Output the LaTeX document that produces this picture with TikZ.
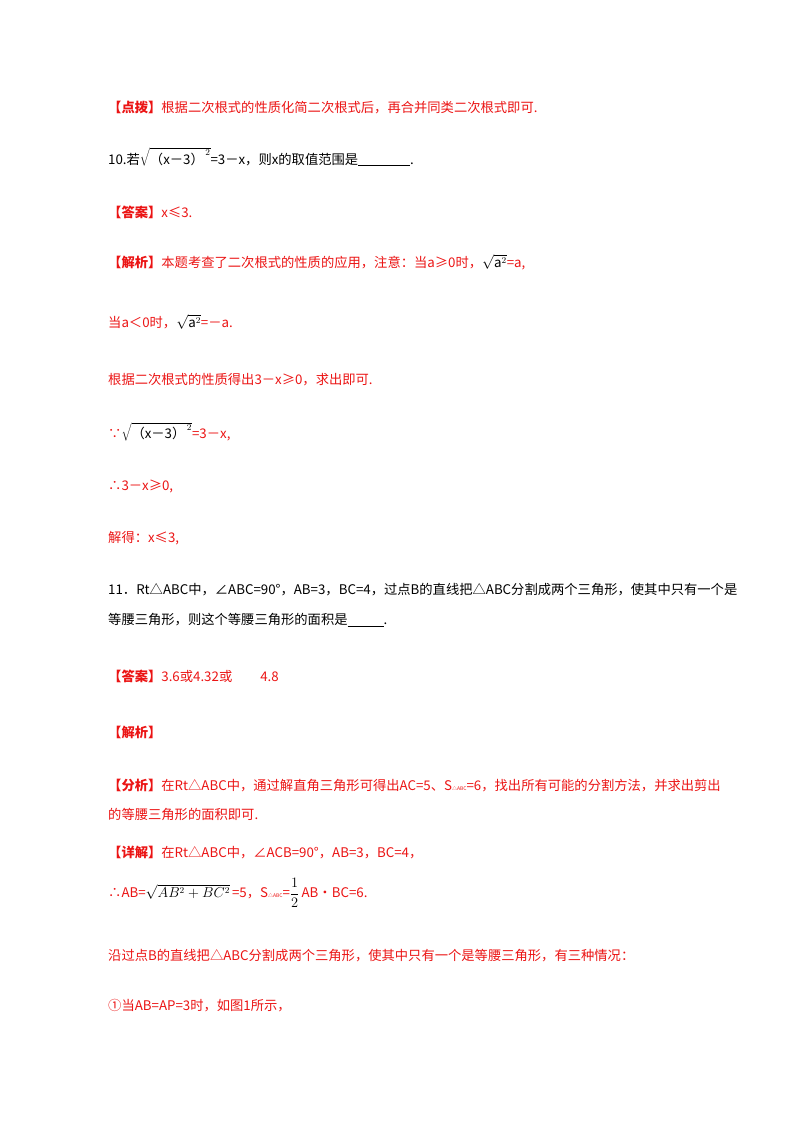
\documentclass[tikz,border=0pt]{standalone}
\usepackage{fontspec}
\setmainfont{Noto Sans CJK SC}
\definecolor{ansred}{RGB}{235,20,20}
\tikzset{
  line/.style={anchor=west, inner sep=0pt, font=\fontsize{13.3}{16}\selectfont},
  redline/.style={line, text=ansred},
}
\newcommand{\tag}[1]{\textbf{【#1】}}
\newcommand{\cjkbox}[1]{\mbox{\rmfamily #1}}
\begin{document}
\begin{tikzpicture}[x=1pt,y=-1pt]
\useasboundingbox (0,0) rectangle (800,1132);
\node[redline] (dianbo) at (108,108) {\tag{点拨}根据二次根式的性质化简二次根式后，再合并同类二次根式即可.};
\node[line] (q10) at (108,157) {10.若{\color{black}$\sqrt{\cjkbox{（x－3）}^{\,2}}$}=3－x，则x的取值范围是\underline{\hspace{52pt}}.};
\node[redline] (ans10) at (108,212) {\tag{答案}x≤3.};
\node[redline] (jx10) at (108,262) {\tag{解析}本题考查了二次根式的性质的应用，注意：当a≥0时，{\color{black}$\sqrt{\cjkbox{a}^2}$}=a,};
\node[redline] (jx10b) at (108,322) {当a＜0时，{\color{black}$\sqrt{\cjkbox{a}^2}$}=－a.};
\node[redline] (jx10c) at (108,380) {根据二次根式的性质得出3－x≥0，求出即可.};
\node[redline] (jx10d) at (108,432) {∵{\color{black}$\sqrt{\cjkbox{（x－3）}^{\,2}}$}=3－x,};
\node[redline] (jx10e) at (108,486) {∴3－x≥0,};
\node[redline] (jx10f) at (108,538) {解得：x≤3,};
\node[line] (q11) at (108,590) {11．Rt△ABC中，∠ABC=90°，AB=3，BC=4，过点B的直线把△ABC分割成两个三角形，使其中只有一个是};
\node[line] (q11b) at (108,620) {等腰三角形，则这个等腰三角形的面积是\underline{\hspace{36pt}}.};
\node[redline] (ans11) at (108,676) {\tag{答案}3.6或4.32或\hspace{28pt}4.8};
\node[redline] (jx11) at (108,732) {\tag{解析}};
\node[redline] (fx11) at (108,786) {\tag{分析}在Rt△ABC中，通过解直角三角形可得出AC=5、S{\tiny△ABC}=6，找出所有可能的分割方法，并求出剪出};
\node[redline] (fx11b) at (108,814) {的等腰三角形的面积即可.};
\node[redline] (xj11) at (108,852) {\tag{详解}在Rt△ABC中，∠ACB=90°，AB=3，BC=4，};
\node[redline] (xj11b) at (108,893) {∴AB={\color{black}$\sqrt{AB^2+BC^2}$}\,=5，S{\tiny△ABC}={\color{black}$\displaystyle\frac{1}{2}$}\,AB•BC=6.};
\node[redline] (xj11c) at (108,956) {沿过点B的直线把△ABC分割成两个三角形，使其中只有一个是等腰三角形，有三种情况：};
\node[redline] (xj11d) at (108,1006) {①当AB=AP=3时，如图1所示，};
\end{tikzpicture}
\end{document}
